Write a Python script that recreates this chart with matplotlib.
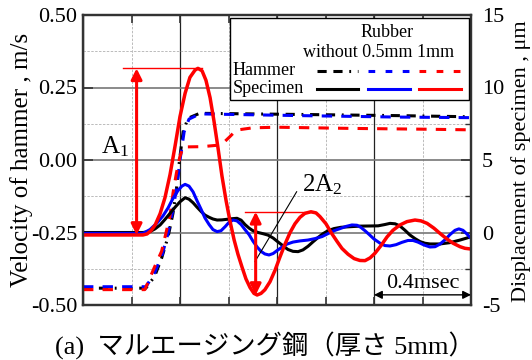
import matplotlib
matplotlib.use("Agg")
import matplotlib.pyplot as plt
from matplotlib.ticker import MultipleLocator, FuncFormatter
from matplotlib.patches import Rectangle
from matplotlib.lines import Line2D

plt.rcParams["font.family"] = ["Liberation Serif", "Noto Sans CJK JP"]
plt.rcParams["mathtext.fontset"] = "custom"
plt.rcParams["mathtext.rm"] = "Liberation Serif"
plt.rcParams["mathtext.it"] = "Liberation Serif:italic"

# ---- Hammer velocity (m/s), time in ms ----
t_ham_none = [0.0, 0.259, 0.295, 0.324, 0.351, 0.371, 0.385, 0.392, 0.399, 0.413, 0.433, 0.481, 0.90, 1.30, 1.60]
v_ham_none = [-0.442, -0.442, -0.402, -0.339, -0.264, -0.184, -0.103, -0.046, 0.006, 0.098, 0.144, 0.161, 0.157, 0.153, 0.149]

t_ham_05 = [0.0, 0.260, 0.297, 0.326, 0.351, 0.371, 0.388, 0.400, 0.417, 0.437, 0.482, 0.90, 1.30, 1.60]
v_ham_05 = [-0.437, -0.437, -0.386, -0.328, -0.252, -0.172, -0.086, 0.0, 0.097, 0.141, 0.159, 0.153, 0.148, 0.146]

t_ham_1 = [0.0, 0.255, 0.296, 0.324, 0.358, 0.371, 0.385, 0.399, 0.413, 0.49, 0.57, 0.605, 0.632, 0.70, 0.80, 1.10, 1.43, 1.60]
v_ham_1 = [-0.447, -0.447, -0.367, -0.315, -0.196, -0.115, -0.046, 0.010, 0.045, 0.046, 0.052, 0.080, 0.103, 0.111, 0.113, 0.109, 0.106, 0.104]

# ---- Specimen displacement (um), time in ms ----
t_spec_none = [0.0, 0.247, 0.276, 0.297, 0.318, 0.338, 0.359, 0.380, 0.400, 0.421, 0.437, 0.454, 0.470, 0.487,
               0.503, 0.520, 0.536, 0.553, 0.573, 0.594, 0.614, 0.635, 0.652, 0.668, 0.685, 0.701, 0.722,
               0.742, 0.763, 0.784, 0.804, 0.825, 0.845, 0.866, 0.887, 0.907, 0.928, 0.948, 0.969, 0.990,
               1.010, 1.035, 1.064, 1.101, 1.142, 1.184, 1.217, 1.245, 1.266, 1.287, 1.307, 1.328, 1.348,
               1.369, 1.390, 1.410, 1.431, 1.472, 1.513, 1.555, 1.579, 1.600]
d_spec_none = [0.0, 0.0, 0.06, 0.25, 0.52, 0.90, 1.32, 1.75, 2.12, 2.40, 2.30, 2.05, 1.75, 1.45,
               1.20, 1.05, 0.93, 0.86, 0.87, 0.91, 0.95, 0.98, 0.85, 0.55, 0.30, 0.12, 0.0,
               -0.08, -0.18, -0.38, -0.65, -0.92, -1.17, -1.30, -1.32, -1.20, -0.95, -0.65, -0.35, -0.08,
               0.12, 0.27, 0.36, 0.40, 0.44, 0.45, 0.46, 0.55, 0.63, 0.60, 0.45, 0.15, -0.17,
               -0.42, -0.63, -0.74, -0.79, -0.79, -0.70, -0.52, -0.40, -0.29]

t_spec_05 = [0.0, 0.247, 0.276, 0.305, 0.330, 0.351, 0.371, 0.392, 0.408, 0.421, 0.437, 0.454, 0.470, 0.487,
             0.503, 0.520, 0.536, 0.553, 0.569, 0.586, 0.602, 0.619, 0.635, 0.652, 0.668, 0.685, 0.701,
             0.718, 0.734, 0.750, 0.767, 0.784, 0.800, 0.821, 0.841, 0.866, 0.895, 0.928, 0.957, 0.986,
             1.010, 1.035, 1.060, 1.085, 1.109, 1.130, 1.146, 1.163, 1.179, 1.200, 1.225, 1.245, 1.266,
             1.291, 1.315, 1.340, 1.361, 1.381, 1.406, 1.431, 1.452, 1.472, 1.493, 1.513, 1.534, 1.550,
             1.567, 1.583, 1.600]
d_spec_05 = [-0.06, -0.06, 0.20, 0.65, 1.15, 1.70, 2.35, 2.90, 3.20, 3.32, 3.20, 2.80, 2.20, 1.60,
             1.00, 0.55, 0.20, 0.06, 0.12, 0.40, 0.70, 0.86, 0.80, 0.55, 0.20, -0.15, -0.60,
             -1.00, -1.30, -1.48, -1.55, -1.45, -1.25, -1.00, -0.80, -0.66, -0.58, -0.52, -0.42, -0.28,
             -0.08, 0.12, 0.27, 0.42, 0.52, 0.50, 0.35, 0.12, -0.12, -0.45, -0.74, -0.90, -0.93,
             -0.84, -0.68, -0.55, -0.55, -0.66, -0.86, -1.00, -0.98, -0.80, -0.50, -0.15, 0.15, 0.25,
             0.15, -0.10, -0.40]

t_spec_1 = [0.0, 0.247, 0.264, 0.280, 0.297, 0.318, 0.338, 0.359, 0.380, 0.400, 0.421, 0.441, 0.462, 0.474,
            0.491, 0.507, 0.524, 0.540, 0.557, 0.573, 0.590, 0.606, 0.623, 0.639, 0.656, 0.672, 0.689,
            0.705, 0.718, 0.734, 0.750, 0.771, 0.792, 0.812, 0.833, 0.854, 0.874, 0.895, 0.915, 0.940,
            0.961, 0.977, 1.002, 1.023, 1.047, 1.068, 1.093, 1.118, 1.142, 1.163, 1.184, 1.204, 1.229,
            1.254, 1.278, 1.307, 1.336, 1.369, 1.394, 1.419, 1.447, 1.472, 1.501, 1.526, 1.555, 1.575, 1.600]
d_spec_1 = [-0.17, -0.17, -0.10, 0.12, 0.50, 1.30, 2.40, 4.00, 6.00, 8.00, 9.60, 10.70, 11.20, 11.32,
            11.15, 10.50, 9.30, 7.70, 5.80, 3.90, 2.20, 0.80, -0.50, -1.50, -2.40, -3.20, -3.80,
            -4.20, -4.31, -4.20, -3.95, -3.40, -2.60, -1.70, -0.80, 0.0, 0.60, 1.05, 1.32, 1.43,
            1.35, 1.10, 0.60, 0.0, -0.60, -1.10, -1.50, -1.80, -1.93, -1.94, -1.75, -1.43, -0.90,
            -0.30, 0.15, 0.52, 0.75, 0.86, 0.80, 0.63, 0.30, -0.06, -0.45, -0.74, -0.98, -1.09, -1.14]

left_ticks = [-0.50, -0.25, 0.00, 0.25, 0.50]
right_ticks = [-5, 0, 5, 10, 15]
rubber_labels = ["without", "0.5mm", "1mm"]
colors = ["black", "#0000ff", "#ff0000"]

A1 = max(d_spec_1)
A1_base = d_spec_1[0]
A2_top = 1.43
A2_bottom = min(d_spec_1)

fig = plt.figure(figsize=(5.32, 3.60), dpi=100)
ax = fig.add_axes([83 / 532, 55 / 360, 388 / 532, 290 / 360])
ax2 = ax.twinx()

ax.set_xlim(0, 1.6)
ax.set_ylim(-0.5, 0.5)
ax2.set_ylim(-5, 15)

# grid
ax.xaxis.set_major_locator(MultipleLocator(0.4))
ax.xaxis.set_minor_locator(MultipleLocator(0.2))
ax.yaxis.set_major_locator(MultipleLocator(0.25))
ax.yaxis.set_minor_locator(MultipleLocator(0.125))
ax.grid(which="major", axis="x", color="#222222", lw=0.9, ls="-")
ax.grid(which="major", axis="y", color="#777777", lw=1.2, ls="-")
ax.grid(which="minor", color="#bbbbbb", lw=0.7, ls=(0, (2.5, 1.5)))
ax.set_axisbelow(True)

ax.tick_params(axis="x", which="both", direction="in", top=True, bottom=True,
               labelbottom=False, length=6, width=1.2, color="#333333")
ax.tick_params(axis="y", which="major", direction="in", length=7, width=1.2,
               labelsize=16, pad=4, color="#333333")
ax.tick_params(axis="y", which="minor", length=0)
ax.set_yticks(left_ticks)
ax.yaxis.set_major_formatter(FuncFormatter(lambda v, p: f"{v:.2f}".replace("\u2212", "-")))

ax2.yaxis.set_major_locator(MultipleLocator(5))
ax2.yaxis.set_minor_locator(MultipleLocator(2.5))
ax2.set_yticks(right_ticks)
ax2.yaxis.set_major_formatter(FuncFormatter(lambda v, p: f"{int(v)}"))
ax2.tick_params(axis="y", which="major", direction="in", length=7, width=1.2,
                labelsize=16, pad=8, color="#333333")
ax2.tick_params(axis="y", which="minor", direction="in", length=4, width=1.0, color="#333333")

for a in (ax, ax2):
    for s in a.spines.values():
        s.set_linewidth(1.6)
        s.set_color("#333333")

fig.text(22 / 532, 1 - 160 / 360, "Velocity of hammer , m/s", fontsize=18,
         rotation=90, ha="center", va="center")
fig.text(521 / 532, 1 - 161 / 360, "Displacement of specimen , \u03bcm", fontsize=16,
         rotation=90, ha="center", va="center")

# hammer velocity (dashed)
dash_black = (0, (3.0, 2.2, 3.0, 2.2, 0.6, 2.2))
dash_col = (0, (3.4, 3.0))
ax.plot(t_ham_none, v_ham_none, color=colors[0], lw=2.2, ls=dash_black)
ax.plot(t_ham_05, v_ham_05, color=colors[1], lw=2.2, ls=dash_col)
ax.plot(t_ham_1, v_ham_1, color=colors[2], lw=2.2, ls=dash_col)

# specimen displacement (solid)
ax2.plot(t_spec_none, d_spec_none, color=colors[0], lw=2.2, solid_joinstyle="round")
ax2.plot(t_spec_05, d_spec_05, color=colors[1], lw=2.2, solid_joinstyle="round")
ax2.plot(t_spec_1, d_spec_1, color=colors[2], lw=2.5, solid_joinstyle="round")

# A1 annotation
ax2.plot([0.165, 0.49], [A1, A1], color="red", lw=1.0)
ax2.annotate("", xy=(0.221, A1_base), xytext=(0.221, A1),
             arrowprops=dict(arrowstyle="<|-|>", color="red", lw=2.2,
                             mutation_scale=16, shrinkA=0, shrinkB=0))
ax2.text(0.075, 5.9, r"$\mathrm{A}_{1}$", fontsize=18, ha="left", va="center")

# 2A2 annotation
ax2.plot([0.668, 0.948], [A2_top, A2_top], color="red", lw=1.0)
ax2.annotate("", xy=(0.712, A2_bottom), xytext=(0.712, A2_top),
             arrowprops=dict(arrowstyle="<|-|>", color="red", lw=2.2,
                             mutation_scale=16, shrinkA=0, shrinkB=0))
ax2.plot([0.881, 0.709], [2.81, -2.01], color="black", lw=0.8)
ax2.text(0.905, 3.3, r"$\mathrm{2A}_{2}$", fontsize=18, ha="left", va="center")

# 0.4 msec scale
ax2.annotate("", xy=(1.2, -4.3), xytext=(1.6, -4.3),
             arrowprops=dict(arrowstyle="<|-|>", color="black", lw=1.0,
                             mutation_scale=12, shrinkA=0, shrinkB=0))
ax2.text(1.4, -3.55, "0.4msec", fontsize=16, ha="center", va="center")

# legend box
tr = ax2.transAxes
ax2.add_patch(Rectangle((0.379, 0.708), 0.616, 0.281, transform=tr, facecolor="white",
                        edgecolor="black", lw=1.0, zorder=8))
ax2.text(0.783, 0.938, "Rubber", transform=tr, fontsize=13, ha="center", va="center", zorder=9)
ax2.text(0.567, 0.872, " ".join(rubber_labels), transform=tr, fontsize=13,
         ha="left", va="center", zorder=9)
ax2.text(0.385, 0.808, "Hammer", transform=tr, fontsize=13, ha="left", va="center", zorder=9)
ax2.text(0.385, 0.746, "Specimen", transform=tr, fontsize=13, ha="left", va="center", zorder=9)
sample_x = [(0.602, 0.709), (0.734, 0.843), (0.866, 0.973)]
for (x0, x1), c, dstyle in zip(sample_x, colors, [dash_black, (0, (2.2, 3.4)), (0, (2.2, 3.4))]):
    ax2.add_line(Line2D([x0, x1], [0.808, 0.808], transform=tr, color=c, lw=2.2, ls=dstyle, zorder=9))
    ax2.add_line(Line2D([x0, x1], [0.746, 0.746], transform=tr, color=c, lw=2.2, zorder=9))

fig.text(55 / 532, 1 - 346 / 360, "(a)  マルエージング鋼（厚さ 5mm）", fontsize=19,
         ha="left", va="center")

fig.savefig("out.png", dpi=100)
